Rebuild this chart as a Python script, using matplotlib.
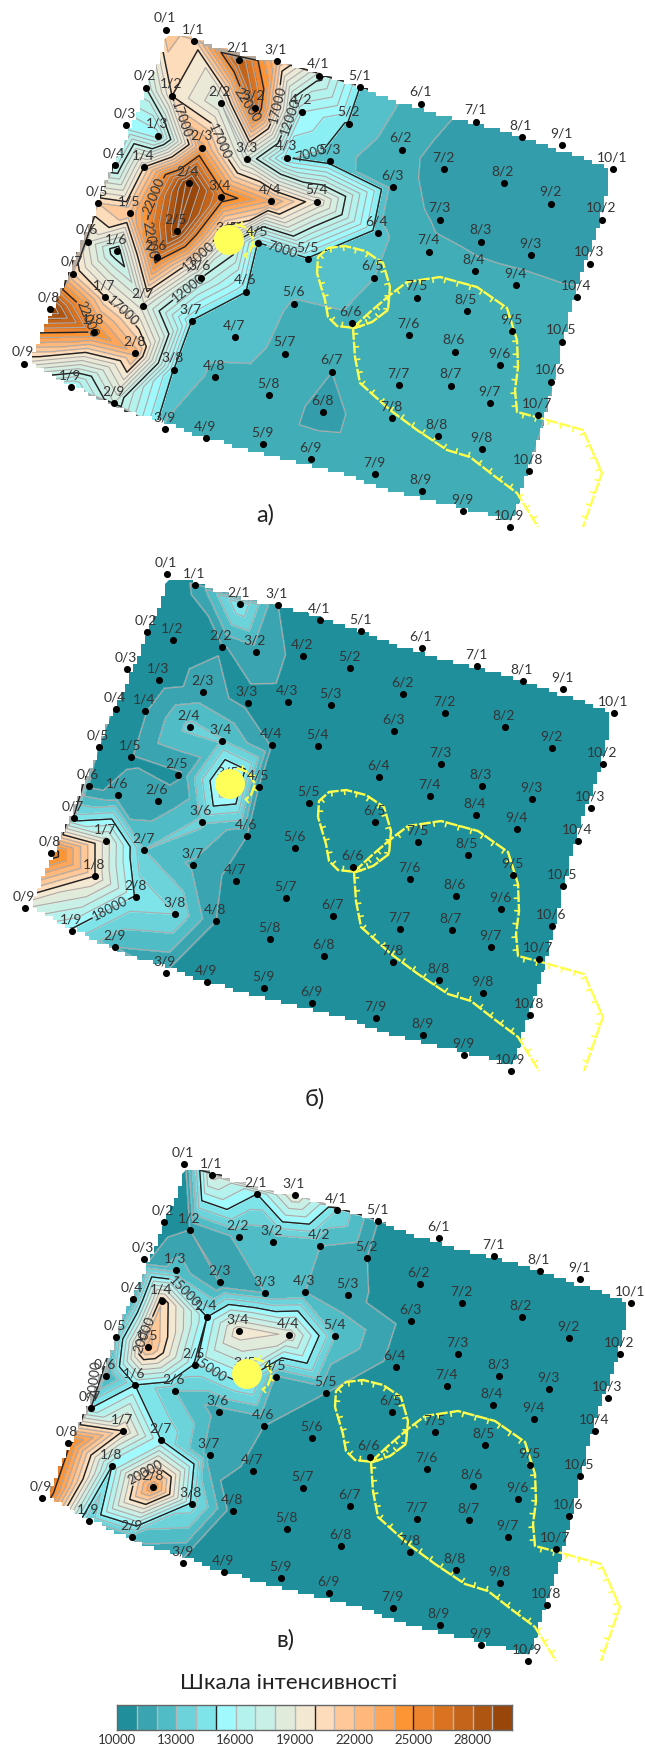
import numpy as np
import matplotlib
matplotlib.use("Agg")
from matplotlib import pyplot as plt
from matplotlib.colors import ListedColormap, BoundaryNorm
from matplotlib.patches import Polygon, Circle
from matplotlib.tri import Triangulation

plt.rcParams["font.family"] = ["Lato", "DejaVu Sans"]

# survey points, pixel positions of panel a), rows 1..9, columns 0..10
point_x = [
    [166, 194, 239, 277, 319, 360, 421, 476, 522, 562, 613],
    [146, 172, 221, 255, 302, 349, 402, 444, 504, 551, 602],
    [126, 158, 202, 247, 287, 330, 393, 440, 481, 531, 590],
    [115, 144, 189, 221, 271, 317, 378, 429, 475, 516, 577],
    [98, 130, 177, 228, 258, 308, 374, 417, 467, 512, 562],
    [88, 117, 157, 201, 246, 294, 352, 409, 455, 500, 551],
    [73, 105, 143, 192, 235, 285, 332, 399, 451, 490, 538],
    [50, 94, 135, 174, 215, 269, 323, 392, 438, 482, 529],
    [24, 71, 114, 165, 206, 263, 311, 375, 422, 463, 510],
]
point_y = [
    [30, 41, 60, 61, 76, 87, 104, 122, 137, 145, 169],
    [88, 96, 103, 108, 112, 124, 150, 169, 183, 204, 220],
    [125, 136, 148, 159, 158, 161, 187, 220, 242, 255, 264],
    [165, 167, 183, 197, 201, 202, 233, 252, 271, 285, 297],
    [203, 213, 231, 240, 243, 259, 278, 298, 311, 331, 342],
    [242, 251, 257, 278, 292, 304, 323, 335, 352, 365, 382],
    [274, 297, 306, 321, 337, 354, 372, 385, 386, 403, 415],
    [309, 332, 353, 370, 377, 395, 412, 418, 436, 449, 471],
    [364, 387, 403, 429, 438, 444, 459, 474, 491, 511, 527],
]

values_a = [
    [18500, 17500, 25000, 19000, 12500, 7000, 5500, 4700, 4700, 4700, 4700],
    [12000, 17000, 14000, 24000, 9000, 6800, 5300, 4600, 4500, 4500, 4600],
    [8000, 8500, 20500, 13500, 7100, 6400, 5400, 4800, 4800, 4800, 4800],
    [10500, 17000, 27500, 23000, 20000, 16000, 6200, 5300, 5200, 5200, 5100],
    [18000, 19000, 27000, 14000, 6900, 6800, 6000, 5500, 5500, 5500, 5500],
    [15000, 11000, 23000, 12000, 7000, 5900, 5800, 5500, 5500, 5500, 5500],
    [18000, 17000, 14500, 6900, 6500, 5700, 5000, 5500, 5500, 5500, 5500],
    [27000, 22000, 19500, 6900, 5700, 5400, 4800, 5400, 5400, 5400, 5000],
    [15500, 8500, 13000, 5800, 5300, 5300, 5300, 5400, 5400, 5400, 5400],
]
values_b = [
    [13500, 14100, 17900, 14000, 13500, 13500, 13500, 13500, 13500, 13500, 13500],
    [13500, 13500, 13900, 14500, 13700, 13500, 13500, 13500, 13500, 13500, 13500],
    [13500, 13500, 14400, 13700, 13700, 13500, 13500, 13500, 13500, 13500, 13500],
    [13500, 13900, 16300, 16100, 13900, 13500, 13500, 13500, 13500, 13500, 13500],
    [13500, 13900, 13800, 20500, 13900, 13500, 13500, 13500, 13500, 13500, 13500],
    [13800, 14200, 14300, 16200, 14000, 13500, 13500, 13500, 13500, 13500, 13500],
    [17500, 21500, 16000, 14800, 13600, 13500, 13500, 13500, 13500, 13500, 13500],
    [29000, 23000, 17800, 17000, 14000, 13500, 13500, 13500, 13500, 13500, 13500],
    [21000, 17700, 15000, 13900, 13500, 13500, 13500, 13500, 13500, 13500, 13500],
]
values_c = [
    [10500, 18500, 15000, 19000, 14000, 11000, 10500, 10500, 10500, 10500, 10500],
    [10300, 11000, 12200, 12000, 12000, 11000, 10500, 10500, 10500, 10500, 10500],
    [10700, 12500, 10950, 12000, 12000, 11200, 10500, 10500, 10500, 10500, 10500],
    [12000, 20800, 15000, 19800, 18800, 13000, 10500, 10500, 10500, 10500, 10500],
    [13000, 22500, 14800, 16000, 11800, 11000, 10500, 10500, 10500, 10500, 10500],
    [11500, 15000, 13000, 11500, 11000, 10500, 10500, 10500, 10500, 10500, 10500],
    [15000, 20000, 15000, 11500, 10800, 10300, 10500, 10500, 10500, 10500, 10500],
    [25500, 15000, 24000, 14600, 10400, 10300, 10500, 10500, 10500, 10500, 10500],
    [27000, 13000, 12500, 10600, 10300, 10300, 10500, 10500, 10500, 10500, 10500],
]

# contour label anchors in panel a) pixels
labels_a = [(175, 122), (223, 140), (243, 107), (278, 105), (290, 117), (305, 135), (283, 247),
            (200, 257), (147, 240), (175, 207), (95, 315), (123, 310), (185, 283)]
labels_b = [(106, 358)]
labels_c = [(165, 159), (194, 228), (122, 199), (79, 246), (119, 323)]

scale_colors = ["#1f8f9c", "#3aa5b0", "#50bcc6", "#6dd3da", "#7fe4ea",
                "#9ff9fd", "#b4f2ee", "#c8f0e6", "#e0ebdc", "#f3e8d2",
                "#fddcbc", "#fec898", "#feb87c", "#fea65c", "#fe9534",
                "#ee842e", "#d9731f", "#c4641a", "#ae5512", "#98460a"]
colors_a = ["#2f9ba8", "#339dab", "#40adb7", "#55c0c9",
            "#8aeef2", "#9ff9fd", "#a8f6f6", "#b4f2ee", "#bef1ea",
            "#c8f0e6", "#d4eee1", "#e0ebdc", "#eae9d7", "#f3e8d2"] + scale_colors[10:]
scale_ticks = [10000, 13000, 16000, 19000, 22000, 25000, 28000]

# outline of the mapped area in panel a) pixels
outline = np.array([(167, 36), (185, 36), (210, 45), (253, 58), (290, 65), (333, 78), (363, 90), (397, 102),
                    (433, 113), (497, 130), (573, 155), (608, 168), (608, 190), (595, 240), (583, 273),
                    (572, 307), (560, 357), (545, 420), (537, 443), (523, 487), (513, 520), (493, 515),
                    (443, 503), (400, 493), (343, 473), (300, 463), (250, 450), (190, 432), (167, 422),
                    (133, 412), (90, 393), (43, 370), (30, 358), (43, 327), (67, 277), (87, 230),
                    (110, 170), (137, 113), (163, 47)], dtype=float)

# fault lines, panel a) pixels
fault_small = [(317, 273), (318, 257), (328, 248), (345, 246), (365, 251), (383, 263), (390, 287), (388, 310),
               (372, 322), (355, 328), (337, 326), (328, 317), (325, 300), (317, 273)]
fault_left = [(353, 328), (355, 357), (360, 383), (390, 410), (417, 430), (447, 450), (470, 457), (493, 475),
              (517, 493), (538, 527)]
fault_right = [(353, 328), (370, 312), (390, 295), (407, 282), (440, 277), (477, 287), (507, 308), (517, 340),
               (518, 367), (515, 390), (517, 412), (540, 418), (583, 430), (602, 473), (583, 527)]
fault_ring = [(235, 224), (247, 228), (254, 240), (250, 251), (244, 256)]


def stair_outline(pts, step=4.0):
    closed = np.vstack([pts, pts[:1]])
    out = []
    for p0, p1 in zip(closed[:-1], closed[1:]):
        n = max(int(np.hypot(*(p1 - p0)) / step), 1)
        for t in np.linspace(0, 1, n, endpoint=False):
            q = np.round((p0 + (p1 - p0) * t) / step) * step
            if out:
                out.append((q[0], out[-1][1]))
            out.append((q[0], q[1]))
    return np.array(out)


def draw_fault(ax, path, dx, dy, side=1):
    pts = np.array(path, dtype=float) + (dx, dy)
    ax.plot(pts[:, 0], pts[:, 1], color="#ffff4d", lw=1.7, ls=(0, (5, 0.8)), zorder=5)
    seg = np.hypot(*np.diff(pts, axis=0).T)
    dist = np.r_[0, np.cumsum(seg)]
    for s in np.arange(6, dist[-1], 13):
        i = max(min(np.searchsorted(dist, s) - 1, len(seg) - 1), 0)
        t = (s - dist[i]) / seg[i]
        p = pts[i] + (pts[i + 1] - pts[i]) * t
        d = (pts[i + 1] - pts[i]) / seg[i]
        n = np.array([-d[1], d[0]]) * side
        ax.plot([p[0], p[0] + n[0] * 4], [p[1], p[1] + n[1] * 4], color="#ffff4d", lw=1.2, zorder=5)


def draw_panel(ax, values, colors, base, first_major, dx, dy, anchors):
    x = np.array(point_x, dtype=float) + dx
    y = np.array(point_y, dtype=float) + dy
    z = np.array(values, dtype=float)
    tri = Triangulation(x.ravel(), y.ravel())
    levels = base + 1000 * np.arange(len(colors) + 1)
    cmap = ListedColormap(colors)
    cmap.set_under(colors[0])
    cmap.set_over(colors[-1])
    norm = BoundaryNorm(levels, len(colors))
    clip = Polygon(stair_outline(outline) + (dx, dy), closed=True, transform=ax.transData)
    fill = ax.tricontourf(tri, z.ravel(), levels=levels, cmap=cmap, norm=norm, extend="both", zorder=1)
    fill.set_clip_path(clip)
    fill.set_edgecolor("face")
    fine = ax.tricontour(tri, z.ravel(), levels=levels, colors="#ababab", linewidths=0.8, zorder=2)
    fine.set_clip_path(clip)
    major = ax.tricontour(tri, z.ravel(), levels=np.arange(first_major, levels[-1], 5000), colors="#222222",
                          linewidths=1.0, zorder=3)
    major.set_clip_path(clip)
    ax.clabel(major, manual=[(a + dx, b + dy) for a, b in anchors], fmt="%d", fontsize=9.5, colors="#333333",
              inline=True, inline_spacing=1, zorder=6)

    draw_fault(ax, fault_small, dx, dy, side=1)
    draw_fault(ax, fault_left, dx, dy, side=-1)
    draw_fault(ax, fault_right, dx, dy, side=1)
    draw_fault(ax, fault_ring, dx, dy, side=-1)

    ax.scatter(x.ravel(), y.ravel(), s=26, c="black", lw=0, zorder=8)
    for r in range(9):
        for c in range(11):
            ax.text(x[r, c] - 1, y[r, c] - 12, f"{c}/{r + 1}", ha="center", va="center", fontsize=10,
                    color="#333333", zorder=9)
    # the marker hides point 3/5 and part of its label
    ax.add_patch(Circle((229 + dx, 240 + dy), 15, fc="#ffff5a", ec="none", zorder=10))


fig = plt.figure(figsize=(6.45, 17.51), dpi=100)
ax = fig.add_axes([0, 0, 1, 1])
ax.set_xlim(0, 645)
ax.set_ylim(1751, 0)
ax.axis("off")

draw_panel(ax, values_a, colors_a, 3000, 7000, 0, 0, labels_a)
draw_panel(ax, values_b, scale_colors, 13000, 18000, 1, 544, labels_b)
draw_panel(ax, values_c, scale_colors, 10000, 15000, 18, 1134, labels_c)

ax.text(265, 515, "а)", fontsize=17, ha="center", va="center", color="#222222")
ax.text(315, 1099, "б)", fontsize=17, ha="center", va="center", color="#222222")
ax.text(285, 1640, "в)", fontsize=17, ha="center", va="center", color="#222222")
ax.text(289, 1683, "Шкала інтенсивності", fontsize=16, ha="center", va="center", color="#222222")

# colour scale
cax = fig.add_axes([117 / 645, 1 - 1730 / 1751, 395 / 645, 25 / 1751])
edges = 10000 + 1000 * np.arange(21)
cax.pcolormesh(edges, [0, 1], [edges[:-1]], cmap=ListedColormap(scale_colors),
               norm=BoundaryNorm(edges, 20), edgecolors="none")
for v in edges[1:-1]:
    cax.axvline(v, color="#222222" if v % 5000 == 0 else "#b5b5b5", lw=1)
cax.set_yticks([])
cax.set_xticks(scale_ticks)
cax.set_xticklabels([str(t) for t in scale_ticks], fontsize=9.5, color="#333333")
cax.tick_params(axis="x", length=0, pad=3)
for s in cax.spines.values():
    s.set_color("#666666")
    s.set_linewidth(1)

fig.savefig("out.png", dpi=100)
